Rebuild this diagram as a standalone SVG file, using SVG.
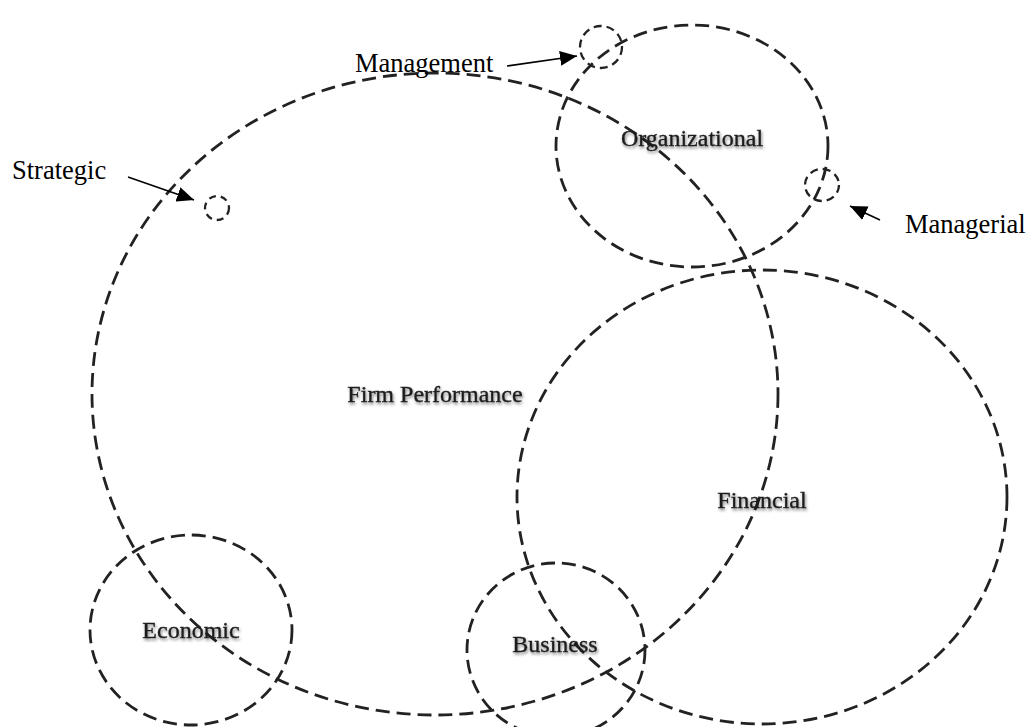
<svg xmlns="http://www.w3.org/2000/svg" width="1030" height="727" viewBox="0 0 1030 727">
  <style>
    .ring { fill: none; stroke: #222; stroke-width: 2.8; stroke-dasharray: 14 7; }
    .dot { fill: none; stroke: #222; stroke-width: 2.3; stroke-dasharray: 8 5; }
    .inner { font-family: "Liberation Serif", "Times New Roman", serif; font-size: 24px; fill: #1e1e1e; stroke: #1e1e1e; stroke-width: 0.35; text-anchor: middle; filter: url(#soft); }
    .outer { font-family: "Liberation Serif", "Times New Roman", serif; font-size: 26.5px; fill: #000; }
    .pointer { stroke: #000; stroke-width: 1.6; fill: none; marker-end: url(#head); }
  </style>
  <defs>
    <marker id="head" markerUnits="userSpaceOnUse" markerWidth="17" markerHeight="15" refX="17" refY="7.5" orient="auto">
      <path d="M0,0 L17,7.5 L0,15 Z" fill="#000"/>
    </marker>
    <!-- soft drop shadow used on the set names -->
    <filter id="soft" x="-10%" y="-30%" width="120%" height="170%">
      <feGaussianBlur in="SourceAlpha" stdDeviation="1.5" result="b"/>
      <feOffset in="b" dx="1" dy="2" result="o"/>
      <feComponentTransfer in="o" result="s"><feFuncA type="linear" slope="0.5"/></feComponentTransfer>
      <feGaussianBlur in="SourceGraphic" stdDeviation="0.35" result="t"/>
      <feMerge><feMergeNode in="s"/><feMergeNode in="t"/></feMerge>
    </filter>
  </defs>

  <rect width="1030" height="727" fill="#fff"/>

  <!-- main set: firm performance -->
  <g id="firm-performance">
    <ellipse class="ring" cx="435" cy="394" rx="343" ry="321"/>
    <text class="inner" x="435" y="402">Firm Performance</text>
  </g>

  <g id="organizational">
    <ellipse class="ring" cx="692" cy="146" rx="136" ry="121"/>
    <text class="inner" x="692" y="146">Organizational</text>
  </g>

  <g id="financial">
    <ellipse class="ring" cx="762" cy="497" rx="245" ry="227"/>
    <text class="inner" x="762" y="508">Financial</text>
  </g>

  <g id="economic">
    <ellipse class="ring" cx="191" cy="630" rx="101" ry="95"/>
    <text class="inner" x="191" y="638">Economic</text>
  </g>

  <g id="business">
    <ellipse class="ring" cx="556" cy="650" rx="89" ry="87"/>
    <text class="inner" x="555" y="652">Business</text>
  </g>

  <!-- small sub-sets -->
  <g id="management">
    <circle class="dot" cx="601" cy="47" r="21"/>
    <text class="outer" x="355" y="72">Management</text>
  </g>

  <g id="strategic">
    <circle class="dot" cx="217" cy="208" r="12" style="stroke-dasharray: 7 5"/>
    <text class="outer" x="12" y="179">Strategic</text>
  </g>

  <g id="managerial">
    <ellipse class="dot" cx="822" cy="185" rx="17" ry="16"/>
    <text class="outer" x="905" y="233">Managerial</text>
  </g>

  <!-- pointers from labels to the small sets -->
  <g id="connectors">
    <line class="pointer" x1="507" y1="66" x2="577" y2="56"/>
    <line class="pointer" x1="128" y1="177" x2="194" y2="200"/>
    <line class="pointer" x1="880" y1="220" x2="850" y2="206"/>
  </g>
</svg>
